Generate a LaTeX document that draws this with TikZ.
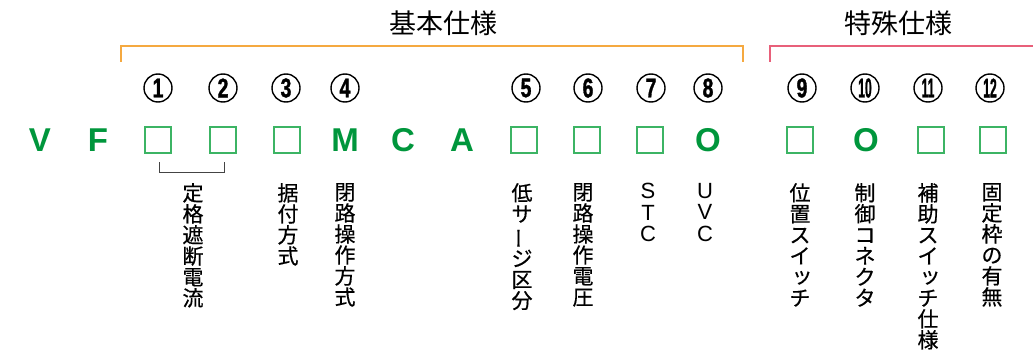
\documentclass[tikz,border=0pt]{standalone}
\usepackage{fontspec}
\usepackage{graphicx}
\setmainfont{Liberation Sans}
\newfontfamily\jp[FakeBold=0.5]{Noto Sans CJK JP}
\newfontfamily\jpb[AutoFakeBold=2.5]{Noto Sans CJK JP}
\newfontfamily\numfont[BoldFeatures={FakeBold=1.5}]{Liberation Sans}
\definecolor{vfgreen}{HTML}{00963C}
\definecolor{boxgreen}{HTML}{3CB464}
\definecolor{basicorange}{HTML}{F5A940}
\definecolor{specialpink}{HTML}{E8607A}
\definecolor{brk}{HTML}{444444}
\newcommand{\vbar}{\rotatebox[origin=c]{90}{ー}}
\newcommand{\smtsu}{\hspace{0.2em}\raisebox{0.08em}{ッ}}
\begin{document}
\begin{tikzpicture}[x=1pt,y=-1pt,
  code/.style={font=\fontsize{33}{33}\selectfont\bfseries, text=vfgreen, inner sep=0},
  box/.style={draw=boxgreen, line width=1.5pt, minimum size=26pt, inner sep=0},
  num/.style={circle, draw, line width=1.4pt, minimum size=28pt, inner sep=0, font=\numfont\fontsize{27}{27}\selectfont\bfseries},
  lab/.style={anchor=north, align=center, inner sep=0, font=\jp\fontsize{21}{21}\selectfont},
  latlab/.style={anchor=north, align=center, inner sep=0, font=\fontsize{22}{21.5}\selectfont},
  title/.style={inner sep=0, font=\jpb\fontsize{27}{27}\selectfont},
  bracketA/.style={draw=basicorange, line width=2.2pt},
  bracketB/.style={draw=specialpink, line width=2.2pt},
  small/.style={draw=brk, line width=1pt}
]
\useasboundingbox (0,0) rectangle (1033,353);
% titles
\node[title] (t1) at (443,23) {基本仕様};
\node[title] (t2) at (898,23) {特殊仕様};
% brackets
\draw[bracketA] (121,62) -- (121,46) -- (743,46) -- (743,62);
\draw[bracketB] (770,62) -- (770,46) -- (1034,46);
% circled numbers
\node[num] (n1) at (158,88) {\scalebox{0.72}[1]{1}};
\node[num] (n2) at (223,88) {\scalebox{0.72}[1]{2}};
\node[num] (n3) at (286,88) {\scalebox{0.72}[1]{3}};
\node[num] (n4) at (345,88) {\scalebox{0.72}[1]{4}};
\node[num] (n5) at (526,88) {\scalebox{0.72}[1]{5}};
\node[num] (n6) at (588,88) {\scalebox{0.72}[1]{6}};
\node[num] (n7) at (651,88) {\scalebox{0.72}[1]{7}};
\node[num] (n8) at (708,88) {\scalebox{0.72}[1]{8}};
\node[num] (n9) at (802,88) {\scalebox{0.72}[1]{9}};
\node[num] (n10) at (865,88) {\scalebox{0.45}[1]{10}};
\node[num] (n11) at (928,88) {\scalebox{0.45}[1]{11}};
\node[num] (n12) at (990,88) {\scalebox{0.45}[1]{12}};
% code row
\node[code] (cV) at (40,140) {V};
\node[code] (cF) at (98,140) {F};
\node[box] (b1) at (158,140) {};
\node[box] (b2) at (223,140) {};
\node[box] (b3) at (287,140) {};
\node[code] (cM) at (345,140) {M};
\node[code] (cC) at (403,140) {C};
\node[code] (cA) at (462,140) {A};
\node[box] (b5) at (524,140) {};
\node[box] (b6) at (587,140) {};
\node[box] (b7) at (650,140) {};
\node[code] (cO1) at (708,140) {O};
\node[box] (b9) at (800,140) {};
\node[code] (cO2) at (866,140) {O};
\node[box] (b11) at (931,140) {};
\node[box] (b12) at (993,140) {};
% small bracket joining 1 and 2
\draw[small] (159,162) -- (159,172) -- (224,172) -- (224,162);
% vertical labels
\node[lab] (l12) at (193,183) {定\\格\\遮\\断\\電\\流};
\node[lab] (l3) at (288,183) {据\\付\\方\\式};
\node[lab] (l4) at (345,183) {閉\\路\\操\\作\\方\\式};
\node[lab] (l5) at (522,183) {低\\サ\\\vbar\\ジ\\区\\分};
\node[lab] (l6) at (583,183) {閉\\路\\操\\作\\電\\圧};
\node[latlab] (l7) at (648,183) {S\\T\\C};
\node[latlab] (l8) at (705,183) {U\\V\\C};
\node[lab] (l9) at (800,183) {位\\置\\ス\\イ\\\smtsu\\チ};
\node[lab] (l10) at (865,183) {制\\御\\コ\\ネ\\ク\\タ};
\node[lab] (l11) at (928,183) {補\\助\\ス\\イ\\\smtsu\\チ\\仕\\様};
\node[lab] (l12b) at (992,183) {固\\定\\枠\\の\\有\\無};
\end{tikzpicture}
\end{document}
